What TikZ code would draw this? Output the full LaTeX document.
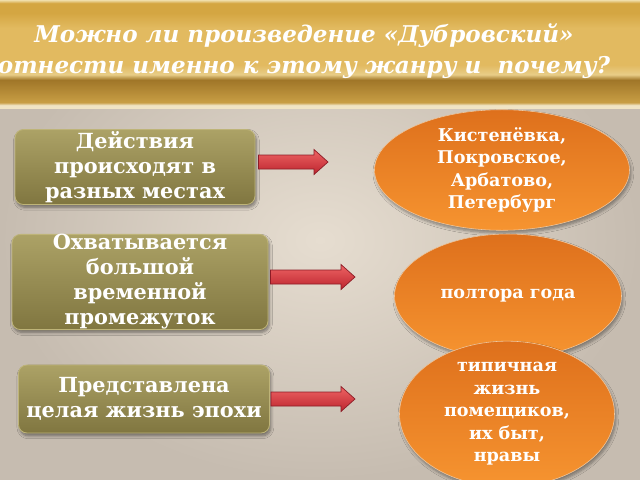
\documentclass[tikz,border=0pt]{standalone}
\usepackage{fontspec}
\setmainfont{DejaVu Serif}
\usetikzlibrary{calc,shapes.geometric,shadows.blur}

\definecolor{bgin}{RGB}{230,221,208}
\definecolor{bgout}{RGB}{198,188,176}
\definecolor{goldcream}{RGB}{240,228,196}
\definecolor{golddark}{RGB}{160,118,40}
\definecolor{goldlow}{RGB}{200,158,68}
\definecolor{goldband}{RGB}{232,205,135}
\definecolor{goldmid}{RGB}{212,166,66}
\definecolor{goldhi}{RGB}{226,186,96}
\definecolor{goldtop}{RGB}{240,222,170}
\definecolor{boxtop}{RGB}{172,162,102}
\definecolor{boxbot}{RGB}{128,118,64}
\definecolor{boxedge}{RGB}{190,180,120}
\definecolor{ortop}{RGB}{222,112,28}
\definecolor{orbot}{RGB}{246,148,48}
\definecolor{oredge}{RGB}{240,200,160}
\definecolor{arrowtop}{RGB}{238,100,100}
\definecolor{arrowbot}{RGB}{188,36,46}
\definecolor{arrowedge}{RGB}{140,28,38}

\pgfdeclareverticalshading{goldbar}{100bp}{color(0bp)=(goldcream); color(26.3bp)=(goldcream);
  color(27.6bp)=(goldlow); color(38bp)=(golddark); color(40.5bp)=(goldband); color(45bp)=(goldhi);
  color(62bp)=(goldhi); color(69bp)=(goldmid); color(73.5bp)=(goldmid); color(75bp)=(goldtop);
  color(100bp)=(goldtop)}

\newcommand{\pxu}{0.025cm}

\tikzset{
  eventbox/.style={rectangle, rounded corners=6pt, draw=boxedge, line width=0.6pt,
    top color=boxtop, bottom color=boxbot, text=white, align=center, inner sep=0pt,
    font=\fontsize{14.8}{17.8}\selectfont\bfseries,
    blur shadow={shadow xshift=1pt, shadow yshift=-2pt, shadow blur steps=6, shadow opacity=45}},
  factoval/.style={ellipse, draw=oredge, line width=0.4pt, top color=ortop, bottom color=orbot,
    text=white, align=center, inner sep=0pt,
    font=\fontsize{12.5}{16}\selectfont\bfseries,
    blur shadow={shadow xshift=1pt, shadow yshift=-2pt, shadow blur steps=6, shadow opacity=40}},
  redarrow/.style={draw=arrowedge, line width=0.5pt, top color=arrowtop, bottom color=arrowbot,
    to path={($(\tikztostart)+(0,-7)$) -- ($(\tikztotarget)+(-14,-7)$) -- ($(\tikztotarget)+(-14,-12.5)$)
      -- (\tikztotarget) -- ($(\tikztotarget)+(-14,12.5)$) -- ($(\tikztotarget)+(-14,7)$)
      -- ($(\tikztostart)+(0,7)$) -- cycle}},
  titletext/.style={text=white, align=center, inner sep=0pt,
    font=\fontsize{16.4}{22}\selectfont\bfseries\itshape}
}

\begin{document}
\begin{tikzpicture}[x=\pxu, y=-\pxu]
\useasboundingbox (0,0) rectangle (640,480);
% background and title bar
\shade[inner color=bgin, outer color=bgout] (0,0) rectangle (640,480);
\shade[shading=goldbar] (0,0) rectangle (640,108);

\node[titletext] (title) at (304,51) {Можно ли произведение «Дубровский»\\отнести именно к этому жанру и\ \ почему?};

% features
\node[eventbox, minimum width=240*\pxu, minimum height=75*\pxu] (places) at (135,167) {Действия\\происходят в\\разных местах};
\node[eventbox, minimum width=256*\pxu, minimum height=95*\pxu] (span) at (140,282) {Охватывается\\большой\\временной\\промежуток};
\node[eventbox, minimum width=251*\pxu, minimum height=68*\pxu] (epoch) at (144,399) {Представлена\\целая жизнь эпохи};

% examples from the novel
\node[factoval, minimum width=255*\pxu, minimum height=104*\pxu] (estates) at (502,170) {Кистенёвка,\\Покровское,\\Арбатово,\\Петербург};
\node[factoval, minimum width=227*\pxu, minimum height=124*\pxu] (years) at (508,296) {полтора года};
\node[factoval, minimum width=215*\pxu, minimum height=118*\pxu] (manners) at (507,414) {типичная\\жизнь\\помещиков,\\их быт,\\нравы};

% arrows
\coordinate (a1) at ($(places.east)+(3,-5)$);
\coordinate (b1) at (328,162);
\coordinate (a2) at ($(span.east)+(2,-5)$);
\coordinate (b2) at (355,277);
\coordinate (a3) at ($(epoch.east)+(1,0)$);
\coordinate (b3) at (355,399);

\path[redarrow] (a1) to (b1);
\path[redarrow] (a2) to (b2);
\path[redarrow] (a3) to (b3);

\end{tikzpicture}
\end{document}
